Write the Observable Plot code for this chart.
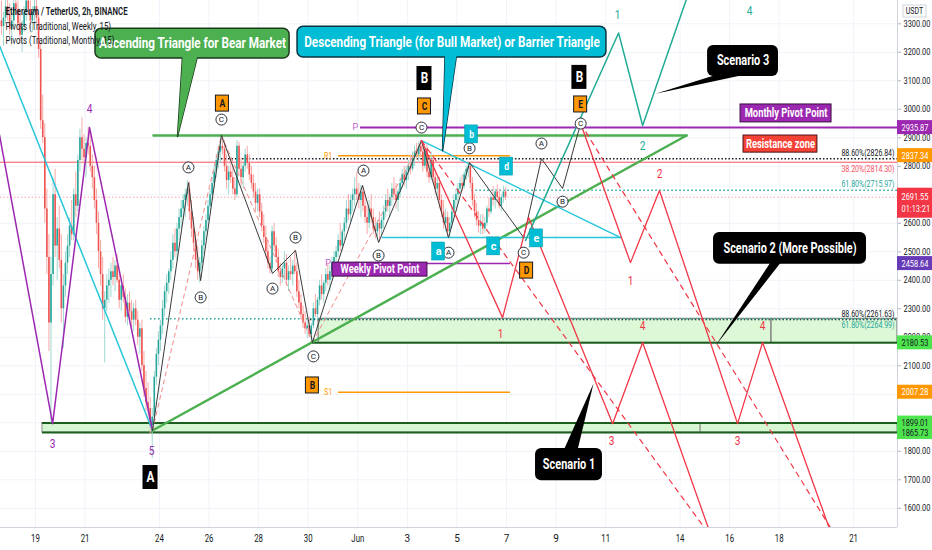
<!DOCTYPE html>
<html><head><meta charset="utf-8">
<script src="https://cdn.jsdelivr.net/npm/d3@7"></script>
<script src="https://cdn.jsdelivr.net/npm/@observablehq/plot@0.6"></script>
<style>
body{margin:0;background:#fff;}
#chart svg{display:block;}
</style></head><body><div id="chart"></div>
<script>
// ---------- time helpers (day offsets from 2021-05-19 00:00) ----------
const DAY0 = Date.UTC(2021, 4, 19);
const T = d => new Date(DAY0 + d * 864e5);
const X0 = -1.412, X1 = 34.771;
const P0 = 1532.6, P1 = 3381.8;

// ---------- axis ticks ----------
const yTicks = [1600,1700,1800,1900,2000,2100,2200,2300,2400,2500,2600,2700,2800,2900,3000,3100,3200,3300];
const yTickLabels = [1600,1700,1800,2100,2200,2300,2400,2500,2600,2800,2900,3000,3100,3200,3300];
const xTickDates = ["2021-05-19","2021-05-21","2021-05-24","2021-05-26","2021-05-28","2021-05-30","2021-06-01","2021-06-03","2021-06-05","2021-06-07","2021-06-09","2021-06-11","2021-06-14","2021-06-16","2021-06-18","2021-06-21"];

// ---------- 2h candles [open, high, low, close], first candle 2021-05-17 14:00 ----------
const may17 = [[3310,3380,3260,3290],[3290,3340,3220,3320],[3320,3390,3300,3360],[3360,3400,3310,3330],[3330,3370,3260,3280]];
const may18 = [[3280,3340,3230,3310],[3310,3390,3290,3370],[3370,3420,3330,3350],[3350,3380,3280,3300],[3300,3340,3230,3260],[3260,3310,3200,3290],[3290,3360,3270,3340],[3340,3400,3310,3380],[3380,3420,3330,3350],[3350,3380,3280,3310],[3310,3360,3270,3340],[3340,3390,3300,3360]];
const may19 = [[3360,3400,3300,3320],[3320,3340,3180,3210],[3210,3230,2930,2960],[2960,3050,2880,2900],[2900,2950,2600,2650],[2650,2720,2420,2480],[2480,2560,2150,2250],[2250,2480,1900,2420],[2420,2760,2380,2700],[2700,2790,2480,2520],[2520,2620,2400,2580],[2580,2660,2440,2470]];
const may20 = [[2470,2560,2250,2300],[2300,2420,2160,2380],[2380,2500,2340,2460],[2460,2560,2420,2520],[2520,2620,2480,2590],[2590,2680,2540,2560],[2560,2720,2540,2700],[2700,2780,2620,2660],[2660,2840,2640,2820],[2820,2930,2780,2900],[2900,2970,2820,2860],[2860,2910,2780,2830]];
const may21 = [[2830,2900,2760,2880],[2880,2937,2840,2870],[2870,2920,2780,2800],[2800,2840,2720,2760],[2760,2800,2650,2680],[2680,2720,2560,2600],[2600,2640,2440,2500],[2500,2540,2380,2420],[2420,2480,2260,2300],[2300,2360,2110,2330],[2330,2420,2290,2380],[2380,2440,2320,2400]];
const may22 = [[2400,2460,2340,2430],[2430,2480,2380,2410],[2410,2470,2360,2450],[2450,2490,2390,2400],[2400,2430,2300,2330],[2330,2400,2290,2380],[2380,2420,2320,2340],[2340,2370,2250,2270],[2270,2350,2240,2320],[2320,2360,2260,2290],[2290,2330,2230,2260],[2260,2320,2220,2300]];
const may23 = [[2300,2330,2240,2260],[2260,2290,2170,2200],[2200,2250,2140,2230],[2230,2260,2080,2100],[2100,2150,1990,2020],[2020,2080,1940,1970],[1970,2040,1910,1950],[1950,1990,1860,1890],[1890,1950,1775,1920],[1920,2080,1900,2060],[2060,2160,2030,2140],[2140,2220,2100,2190]];
const may24 = [[2190,2260,2150,2240],[2240,2330,2210,2300],[2300,2380,2270,2360],[2360,2420,2320,2390],[2390,2440,2350,2430],[2430,2500,2400,2470],[2470,2560,2440,2530],[2530,2580,2480,2500],[2500,2600,2470,2580],[2580,2650,2540,2620],[2620,2680,2580,2650],[2650,2700,2610,2680]];
const may25 = [[2680,2720,2620,2700],[2700,2750,2660,2720],[2720,2745,2610,2640],[2640,2680,2550,2580],[2580,2620,2500,2530],[2530,2570,2440,2470],[2470,2520,2400,2430],[2430,2480,2390,2460],[2460,2540,2440,2520],[2520,2590,2490,2570],[2570,2630,2540,2610],[2610,2680,2590,2660]];
const may26 = [[2660,2720,2640,2700],[2700,2760,2680,2740],[2740,2800,2720,2780],[2780,2840,2760,2820],[2820,2870,2790,2850],[2850,2890,2810,2870],[2870,2911,2840,2860],[2860,2890,2780,2800],[2800,2840,2720,2750],[2750,2800,2700,2780],[2780,2830,2740,2760],[2760,2800,2700,2720]];
const may27 = [[2720,2760,2680,2700],[2700,2890,2690,2870],[2870,2885,2770,2790],[2790,2830,2730,2760],[2760,2810,2720,2800],[2800,2860,2780,2840],[2840,2870,2790,2810],[2810,2840,2750,2770],[2770,2800,2720,2740],[2740,2770,2690,2710],[2710,2740,2640,2670],[2670,2720,2640,2700]];
const may28 = [[2700,2720,2620,2640],[2640,2670,2570,2590],[2590,2630,2530,2550],[2550,2590,2480,2500],[2500,2540,2440,2460],[2460,2480,2422,2440],[2440,2590,2430,2570],[2570,2600,2500,2520],[2520,2550,2460,2480],[2480,2510,2410,2430],[2430,2460,2380,2410],[2410,2460,2390,2440]];
const may29 = [[2440,2500,2400,2460],[2460,2490,2380,2400],[2400,2450,2360,2430],[2430,2480,2400,2420],[2420,2470,2380,2450],[2450,2505,2420,2430],[2430,2460,2340,2360],[2360,2400,2300,2320],[2320,2350,2260,2280],[2280,2310,2230,2250],[2250,2290,2210,2230],[2230,2260,2195,2240]];
const may30 = [[2240,2270,2200,2210],[2210,2250,2182,2240],[2240,2320,2230,2300],[2300,2350,2270,2280],[2280,2340,2260,2330],[2330,2400,2310,2380],[2380,2420,2330,2350],[2350,2400,2320,2390],[2390,2440,2360,2420],[2420,2460,2380,2400],[2400,2450,2360,2430],[2430,2480,2400,2460]];
const may31 = [[2460,2500,2420,2480],[2480,2520,2440,2500],[2500,2560,2480,2540],[2540,2600,2500,2520],[2520,2580,2500,2570],[2570,2620,2540,2600],[2600,2680,2580,2650],[2650,2700,2610,2630],[2630,2700,2600,2680],[2680,2720,2640,2700],[2700,2760,2660,2720],[2720,2780,2680,2700]];
const jun01 = [[2700,2740,2650,2680],[2680,2733,2620,2710],[2710,2730,2640,2660],[2660,2700,2600,2620],[2620,2660,2560,2600],[2600,2680,2580,2650],[2650,2700,2600,2620],[2620,2650,2560,2580],[2580,2620,2545,2570],[2570,2610,2550,2600],[2600,2640,2533,2580],[2580,2620,2550,2610]];
const jun02 = [[2610,2660,2580,2640],[2640,2700,2620,2680],[2680,2720,2640,2660],[2660,2700,2620,2690],[2690,2740,2660,2720],[2720,2760,2680,2700],[2700,2740,2650,2680],[2680,2720,2640,2710],[2710,2760,2690,2740],[2740,2790,2720,2770],[2770,2800,2730,2750],[2750,2800,2720,2780]];
const jun03 = [[2780,2820,2750,2800],[2800,2840,2770,2790],[2790,2850,2780,2830],[2830,2870,2800,2850],[2850,2880,2820,2840],[2840,2885,2810,2870],[2870,2890,2830,2850],[2850,2880,2780,2800],[2800,2870,2790,2860],[2860,2880,2760,2780],[2780,2820,2740,2760],[2760,2850,2750,2820]];
const jun04 = [[2820,2840,2740,2760],[2760,2780,2700,2720],[2720,2760,2680,2740],[2740,2760,2650,2680],[2680,2700,2620,2640],[2640,2680,2580,2600],[2600,2650,2570,2620],[2620,2640,2550,2570],[2570,2620,2550,2600],[2600,2660,2580,2640],[2640,2700,2620,2680],[2680,2720,2650,2700]];
const jun05 = [[2700,2740,2670,2720],[2720,2760,2700,2740],[2740,2770,2710,2730],[2730,2780,2720,2770],[2770,2800,2750,2790],[2790,2813,2760,2800],[2800,2813,2720,2740],[2740,2760,2660,2680],[2680,2700,2620,2640],[2640,2670,2590,2610],[2610,2640,2565,2590],[2590,2630,2560,2600]];
const jun06 = [[2600,2630,2560,2580],[2580,2620,2565,2600],[2600,2660,2590,2650],[2650,2690,2620,2640],[2640,2700,2630,2690],[2690,2730,2660,2680],[2680,2720,2650,2710],[2710,2735,2670,2690],[2690,2720,2650,2660],[2660,2700,2640,2690],[2690,2730,2670,2710],[2710,2725,2680,2691.55]];
const candleDays = [may17,may18,may19,may20,may21,may22,may23,may24,may25,may26,may27,may28,may29,may30,may31,jun01,jun02,jun03,jun04,jun05,jun06];
const FIRST = Date.UTC(2021, 4, 17, 14);
const candles = candleDays.flat().map((k, i) => ({t: new Date(FIRST + (i * 2 + 1) * 3600e3), o: k[0], h: k[1], l: k[2], c: k[3]}));

// ---------- levels ----------
const monthlyPivot = 2935.87, weeklyPivot = 2458.64, weeklyR1 = 2837.34, weeklyS1 = 2007.28;
const pivotSpan = [12.22, 19.16];
const fibTop886 = 2826.84, fibTop382 = 2814.30, fibTop618 = 2715.97;
const fibLow886 = 2261.63, fibLow618 = 2264.99;
const lastPrice = 2691.55;
const supportTop = 1899.01, supportBottom = 1865.73, supportSplit = [0.28, 26.83, X1];
const zoneTop = 2264.99, zoneBottom = 2180.53, zoneSplit = [11.42, 29.69, X1];

// ---------- drawings [dayOffset, price] ----------
const greenTop = [[4.76, 2908], [26.26, 2908]];
const greenRise = [[4.72, 1873], [26.26, 2908]];
const cyanTop = [[15.57, 2890], [23.6, 2550]];
const cyanBase = [[14.0, 2550], [23.6, 2550]];
const cyanLeft = [[-1.6, 3255], [4.72, 1873]];
const purpleWave = [[-1.6, 2980], [0.69, 1897], [2.18, 2936], [4.72, 1873]];
const abc1 = [[4.72,1873],[6.17,2743],[6.66,2399],[7.50,2908]];
const abc2 = [[7.50,2908],[9.56,2424],[10.49,2505],[11.17,2182]];
const abc3 = [[11.17,2182],[13.19,2733],[13.84,2533],[15.57,2890]];
const abc4 = [[15.57,2890],[16.66,2550],[17.51,2813],[19.69,2550]];
const abc5 = [[19.69,2550],[20.41,2827],[21.26,2722],[21.99,2950]];
const pinkDashed = [[[4.72,1873],[7.50,2908]], [[7.50,2908],[11.17,2182]], [[11.17,2182],[15.57,2890]]];
const redDashed = [[[15.57,2890],[27.67,1450]], [[21.99,2950],[32.65,1450]]];
const scenario1 = [[15.57,2890],[18.84,2269],[19.89,2620],[23.28,1897],[24.49,2182],[27.47,1450]];
const scenario2 = [[21.99,2950],[24.0,2462],[25.17,2715],[28.32,1897],[29.33,2182],[32.35,1450]];
const scenario3 = [[19.77,2540],[23.52,3268],[24.49,2943],[26.52,3452]];

// ---------- labels ----------
const circA = [[6.17,2796],[9.56,2371],[13.23,2785],[16.66,2497],[20.41,2880]];
const circB = [[6.66,2340],[10.49,2550],[13.84,2487],[17.51,2863],[21.26,2676]];
const circC = [[7.50,2964],[11.21,2133],[15.57,2936],[19.69,2497],[21.99,2950]];
const orangeTags = [["A",7.54,3020],["C",15.69,3010],["E",21.99,3017],["B",11.17,2031],["D",19.81,2434]];
const blackTags = [["A",4.64,1708],["B",15.69,3108],["B",21.94,3112]];
const cyanTags = [["b",17.59,2912],["d",19.0,2799],["a",16.26,2501],["c",18.48,2519],["e",20.21,2547]];
const purpleNums = [["4",2.18,3003],["3",0.69,1827],["5",4.68,1803]];
const redNums = [["1",18.76,2213],["3",23.24,1838],["4",24.49,2241],["1",24.0,2399],["2",25.17,2775],["3",28.32,1838],["4",29.33,2241]];
const tealNums = [["1",23.48,3333],["2",24.49,2873],["4",28.8,3347]];

// callouts: [text, x1, x2, pTop, pBottom]; pointers: closed triangles
const greenCallout = ["Ascending Triangle for Bear Market", 2.42, 10.25, 3283, 3178];
const greenPointer = [[5.93,3185],[6.53,3185],[5.73,2905],[5.93,3185]];
const cyanCallout = ["Descending Triangle (for Bull Market) or Barrier Triangle", 10.57, 23.03, 3290, 3182];
const cyanPointer = [[16.52,3189],[16.98,3189],[16.42,2855],[16.52,3189]];
const blackCallouts = [["Scenario 3", 27.11, 29.97, 3224, 3115], ["Scenario 2 (More Possible)", 27.35, 33.52, 2568, 2456], ["Scenario 1", 20.17, 22.87, 1810, 1697]];
const blackPointers = [
  [[27.5,3122],[28.64,3122],[25.01,3055],[27.5,3122]],
  [[29.65,2463],[30.07,2463],[27.43,2170],[29.65,2463]],
  [[21.3,1803],[21.86,1803],[22.51,2038],[21.3,1803]]
];
const purpleBoxes = [["Monthly Pivot Point", 28.44, 32.11, 3017, 2954], ["Weekly Pivot Point", 11.98, 15.81, 2462, 2413]];
const redBoxes = [["Resistance zone", 28.56, 31.54, 2908, 2848]];

// ---------- right axis badges ----------
const badgePurple = [2935.87], badgeOrange = [2837.34, 2007.28], badgeDeep = [2458.64], badgeGreen = [2180.53, 1899.01, 1865.73];
const countdown = "01:13:21";
const legendTitle = "Ethereum / TetherUS, 2h, BINANCE";
const legendWeekly = "Pivots (Traditional, Weekly, 15)";
const legendMonthly = "Pivots (Traditional, Monthly, 15)";

// ---------- build ----------
const FONT = "Roboto, 'Liberation Sans', 'DejaVu Sans', sans-serif";
const px = d => T(d[0]), py = d => d[1];
const up = d => d.c >= d.o;
const lineOf = (pts, o) => Plot.line(pts, {x: px, y: py, clip: true, ...o});
const tag = (arr, o, t) => [
  Plot.rect(arr, {x1: d => T(d[1]), x2: d => T(d[1]), y1: d => d[2], y2: d => d[2], insetLeft: -6.5, insetRight: -6.5, insetTop: -9, insetBottom: -9, ...o}),
  Plot.text(arr, {x: d => T(d[1]), y: d => d[2], text: d => d[0], fontWeight: "bold", ...t})
];
const box = (arr, o, t) => [
  Plot.rect(arr, {x1: d => T(d[1]), x2: d => T(d[2]), y1: d => d[4], y2: d => d[3], ...o}),
  Plot.text(arr, {x: d => T((d[1] + d[2]) / 2), y: d => (d[3] + d[4]) / 2, text: d => d[0], fill: "white", fontWeight: "bold", ...t})
];
const circles = (arr, letter) => [
  Plot.dot(arr, {x: px, y: py, r: 5.5, fill: "white", stroke: "#131722", strokeWidth: 0.9}),
  Plot.text(arr, {x: px, y: py, text: () => letter, fontSize: 8, fill: "#131722"})
];
const badge = (vals, fill, textFill) => [
  Plot.rect(vals, {x1: () => T(X1), x2: () => T(X1), y1: d => d, y2: d => d, insetTop: -7, insetBottom: -7, insetRight: -35, fill}),
  Plot.text(vals, {x: () => T(X1), y: d => d, text: d => d.toFixed(2), dx: 4, textAnchor: "start", fill: textFill, fontSize: 9.5})
];

const chart = Plot.plot({
  width: 932, height: 550,
  marginTop: 0, marginLeft: 0, marginRight: 35, marginBottom: 23,
  style: {fontFamily: FONT, fontSize: "10px", background: "#fff", color: "#131722", overflow: "visible"},
  x: {type: "utc", domain: [T(X0), T(X1)], axis: null},
  y: {domain: [P0, P1], axis: null},
  color: {type: "identity"},
  marks: [
    Plot.gridY(yTicks, {stroke: "#f0f3fa", strokeOpacity: 1}),
    Plot.gridX(xTickDates.map(s => new Date(s)), {stroke: "#f0f3fa", strokeOpacity: 1}),
    // zones
    Plot.rect(d3.pairs(supportSplit), {x1: d => T(d[0]), x2: d => T(d[1]), y1: supportBottom, y2: supportTop, fill: "#d6f7d2", stroke: "#8a8a8a", strokeWidth: 1}),
    Plot.rect(d3.pairs(zoneSplit), {x1: d => T(d[0]), x2: d => T(d[1]), y1: zoneBottom, y2: zoneTop, fill: "#dcf8d6", stroke: "#6d6d6d", strokeWidth: 1}),
    // horizontal levels
    Plot.ruleY([fibTop382], {x1: T(X0), x2: T(X1), stroke: "#f7525f", strokeWidth: 1}),
    Plot.ruleY([lastPrice], {x1: T(X0), x2: T(X1), stroke: "#f7a3a8", strokeWidth: 1, strokeDasharray: "1.5,2"}),
    Plot.ruleY([fibTop886], {x1: T(7.5), x2: T(X1), stroke: "#131722", strokeWidth: 1.5, strokeDasharray: "1.5,2"}),
    Plot.ruleY([fibTop618], {x1: T(17.6), x2: T(X1), stroke: "#26a69a", strokeWidth: 1.5, strokeDasharray: "1.5,2.5"}),
    Plot.ruleY([fibLow618], {x1: T(4.64), x2: T(X1), stroke: "#26a69a", strokeWidth: 1.5, strokeDasharray: "1.5,2.5"}),
    Plot.ruleY([fibLow886], {x1: T(11.09), x2: T(X1), stroke: "#131722", strokeWidth: 1.2, strokeDasharray: "1.5,2"}),
    Plot.ruleY([zoneBottom], {x1: T(11.17), x2: T(X1), stroke: "#1b5e20", strokeWidth: 2}),
    Plot.ruleY([supportTop, supportBottom], {x1: T(0.28), x2: T(X1), stroke: "#1b5e20", strokeWidth: 2}),
    Plot.ruleY([monthlyPivot], {x1: T(13.11), x2: T(X1), stroke: "#9c27b0", strokeWidth: 2}),
    Plot.ruleY([weeklyPivot], {x1: T(pivotSpan[0]), x2: T(pivotSpan[1]), stroke: "#9c27b0", strokeWidth: 1.5}),
    Plot.ruleY([weeklyR1, weeklyS1], {x1: T(pivotSpan[0]), x2: T(pivotSpan[1]), stroke: "#ff9800", strokeWidth: 1.5}),
    Plot.text([["P", 12.9, monthlyPivot], ["P", 11.8, weeklyPivot], ["R1", 11.8, weeklyR1], ["S1", 11.8, weeklyS1]], {x: d => T(d[1]), y: d => d[2], text: d => d[0], fill: d => d[0] === "P" ? "#c060d0" : "#ff9800", fontSize: 9}),
    // candles
    Plot.ruleX(candles, {x: "t", y1: "l", y2: "h", stroke: d => up(d) ? "#9ed8cf" : "#f7a9a8", strokeWidth: 1}),
    Plot.ruleX(candles, {x: "t", y1: "o", y2: "c", stroke: d => up(d) ? "#26a69a" : "#ef5350", strokeWidth: 1.6}),
    // pattern lines
    ...pinkDashed.map(p => lineOf(p, {stroke: "#f48a8a", strokeWidth: 1, strokeDasharray: "4,4"})),
    lineOf(cyanLeft, {stroke: "#26c6da", strokeWidth: 1.5}),
    lineOf(purpleWave, {stroke: "#9c27b0", strokeWidth: 1.5}),
    lineOf(greenTop, {stroke: "#4caf50", strokeWidth: 2.5}),
    lineOf(greenRise, {stroke: "#4caf50", strokeWidth: 2.5}),
    lineOf(cyanTop, {stroke: "#26c6da", strokeWidth: 1.5}),
    lineOf(cyanBase, {stroke: "#26c6da", strokeWidth: 1.5}),
    ...[abc1, abc2, abc3, abc4, abc5].map(p => lineOf(p, {stroke: "#3a3a3a", strokeWidth: 1})),
    ...redDashed.map(p => lineOf(p, {stroke: "#f23645", strokeWidth: 1.2, strokeDasharray: "5,5"})),
    lineOf(scenario1, {stroke: "#f23645", strokeWidth: 1.3}),
    lineOf(scenario2, {stroke: "#f23645", strokeWidth: 1.3}),
    lineOf(scenario3, {stroke: "#22ab94", strokeWidth: 1.5}),
    // wave labels
    ...circles(circA, "A"), ...circles(circB, "B"), ...circles(circC, "C"),
    Plot.text(purpleNums, {x: d => T(d[1]), y: d => d[2], text: d => d[0], fill: "#9c27b0", fontSize: 13}),
    Plot.text(redNums, {x: d => T(d[1]), y: d => d[2], text: d => d[0], fill: "#f23645", fontSize: 13}),
    Plot.text(tealNums, {x: d => T(d[1]), y: d => d[2], text: d => d[0], fill: "#22ab94", fontSize: 13}),
    ...tag(orangeTags, {fill: "#ff9800", stroke: "#131722", strokeWidth: 1, insetTop: -8, insetBottom: -8}, {fill: "#131722", fontSize: 11}),
    ...tag(blackTags, {fill: "#000", insetTop: -12, insetBottom: -12, insetLeft: -7.5, insetRight: -7.5}, {fill: "#fff", fontSize: 15}),
    ...tag(cyanTags, {fill: "#00bcd4", stroke: "#0097a7", strokeWidth: 0.5}, {fill: "#fff", fontSize: 11}),
    // callouts
    lineOf(greenPointer, {stroke: "#1e3a1e", strokeWidth: 1.5, fill: "#4caf50", clip: false}),
    ...box([greenCallout], {fill: "#4caf50", stroke: "#1e3a1e", strokeWidth: 1.5, rx: 6}, {fontSize: 15}),
    lineOf(greenPointer, {stroke: "none", fill: "#4caf50", clip: false}),
    lineOf(cyanPointer, {stroke: "#0b3540", strokeWidth: 1.5, fill: "#00bcd4", clip: false}),
    ...box([cyanCallout], {fill: "#00bcd4", stroke: "#0b3540", strokeWidth: 1.5, rx: 6}, {fontSize: 15}),
    lineOf(cyanPointer, {stroke: "none", fill: "#00bcd4", clip: false}),
    ...blackPointers.map(p => lineOf(p, {stroke: "none", fill: "#000", clip: false})),
    ...box(blackCallouts, {fill: "#000", rx: 6}, {fontSize: 14}),
    ...box(purpleBoxes, {fill: "#9c27b0", stroke: "#3a0d44", strokeWidth: 1}, {fontSize: 12}),
    ...box(redBoxes, {fill: "#f44336", stroke: "#4a1010", strokeWidth: 1}, {fontSize: 12}),
    // fib labels at right
    Plot.text([fibTop886, fibLow886], {x: () => T(X1), y: d => d, text: d => "88.60%(" + d.toFixed(2) + ")", dx: -3, dy: -6, textAnchor: "end", fill: "#131722", fontSize: 9}),
    Plot.text([fibTop382], {x: () => T(X1), y: d => d, text: d => "38.20%(" + d.toFixed(2) + ")", dx: -3, dy: 7, textAnchor: "end", fill: "#f7525f", fontSize: 9}),
    Plot.text([fibTop618], {x: () => T(X1), y: d => d, text: d => "61.80%(" + d.toFixed(2) + ")", dx: -3, dy: -6, textAnchor: "end", fill: "#26a69a", fontSize: 9}),
    Plot.text([fibLow618], {x: () => T(X1), y: d => d, text: d => "61.80%(" + d.toFixed(2) + ")", dx: -3, dy: 6, textAnchor: "end", fill: "#26a69a", fontSize: 9}),
    // axes
    Plot.ruleY([P0], {stroke: "#d1d4dc"}),
    Plot.ruleX([T(X1)], {stroke: "#d1d4dc"}),
    Plot.axisY(yTickLabels, {anchor: "right", label: null, tickSize: 3, tickPadding: 3, tickFormat: d => d.toFixed(2), fontSize: 9.5, stroke: "#b2b5be", fill: "#131722"}),
    Plot.axisX(xTickDates.map(s => new Date(s)), {anchor: "bottom", label: null, tickSize: 0, tickPadding: 7, fontSize: 10, fill: "#131722", tickFormat: d => d.getUTCDate() === 1 ? "Jun" : String(d.getUTCDate())}),
    ...badge(badgePurple, "#9c27b0", "#fff"),
    ...badge(badgeOrange, "#ff9800", "#fff"),
    ...badge(badgeDeep, "#673ab7", "#fff"),
    ...badge(badgeGreen, "#4ee44e", "#131722"),
    Plot.rect([lastPrice], {x1: () => T(X1), x2: () => T(X1), y1: d => d, y2: d => d, insetTop: -9, insetBottom: -21, insetRight: -35, fill: "#f23645"}),
    Plot.text([lastPrice], {x: () => T(X1), y: d => d, text: d => d.toFixed(2), dx: 4, textAnchor: "start", fill: "#fff", fontSize: 9.5}),
    Plot.text([lastPrice], {x: () => T(X1), y: d => d, text: () => countdown, dx: 4, dy: 12, textAnchor: "start", fill: "#fff", fontSize: 9.5}),
    Plot.rect([P1], {x1: () => T(X1), x2: () => T(X1), y1: d => d, y2: d => d, insetTop: 5, insetBottom: -17, insetLeft: 6, insetRight: -29, fill: "#fff", stroke: "#d1d4dc"}),
    Plot.text([P1], {x: () => T(X1), y: d => d, text: () => "USDT", dx: 17, dy: 11, fill: "#131722", fontSize: 9}),
    // legend
    Plot.text([legendTitle], {frameAnchor: "top-left", text: d => d, dx: 5, dy: 7, fill: "#131722", fontSize: 10, fontWeight: 600}),
    Plot.text([legendWeekly], {frameAnchor: "top-left", text: d => d, dx: 5, dy: 22, fill: "#131722", fontSize: 10}),
    Plot.text([legendMonthly], {frameAnchor: "top-left", text: d => d, dx: 5, dy: 36, fill: "#131722", fontSize: 10})
  ]
});
document.getElementById("chart").append(chart);
// condense all text horizontally (the reference uses a narrow face)
chart.querySelectorAll("text").forEach(el => {
  const L = el.getComputedTextLength();
  if (L > 6) { el.setAttribute("textLength", (L * 0.78).toFixed(1)); el.setAttribute("lengthAdjust", "spacingAndGlyphs"); }
});
</script>
</body></html>
